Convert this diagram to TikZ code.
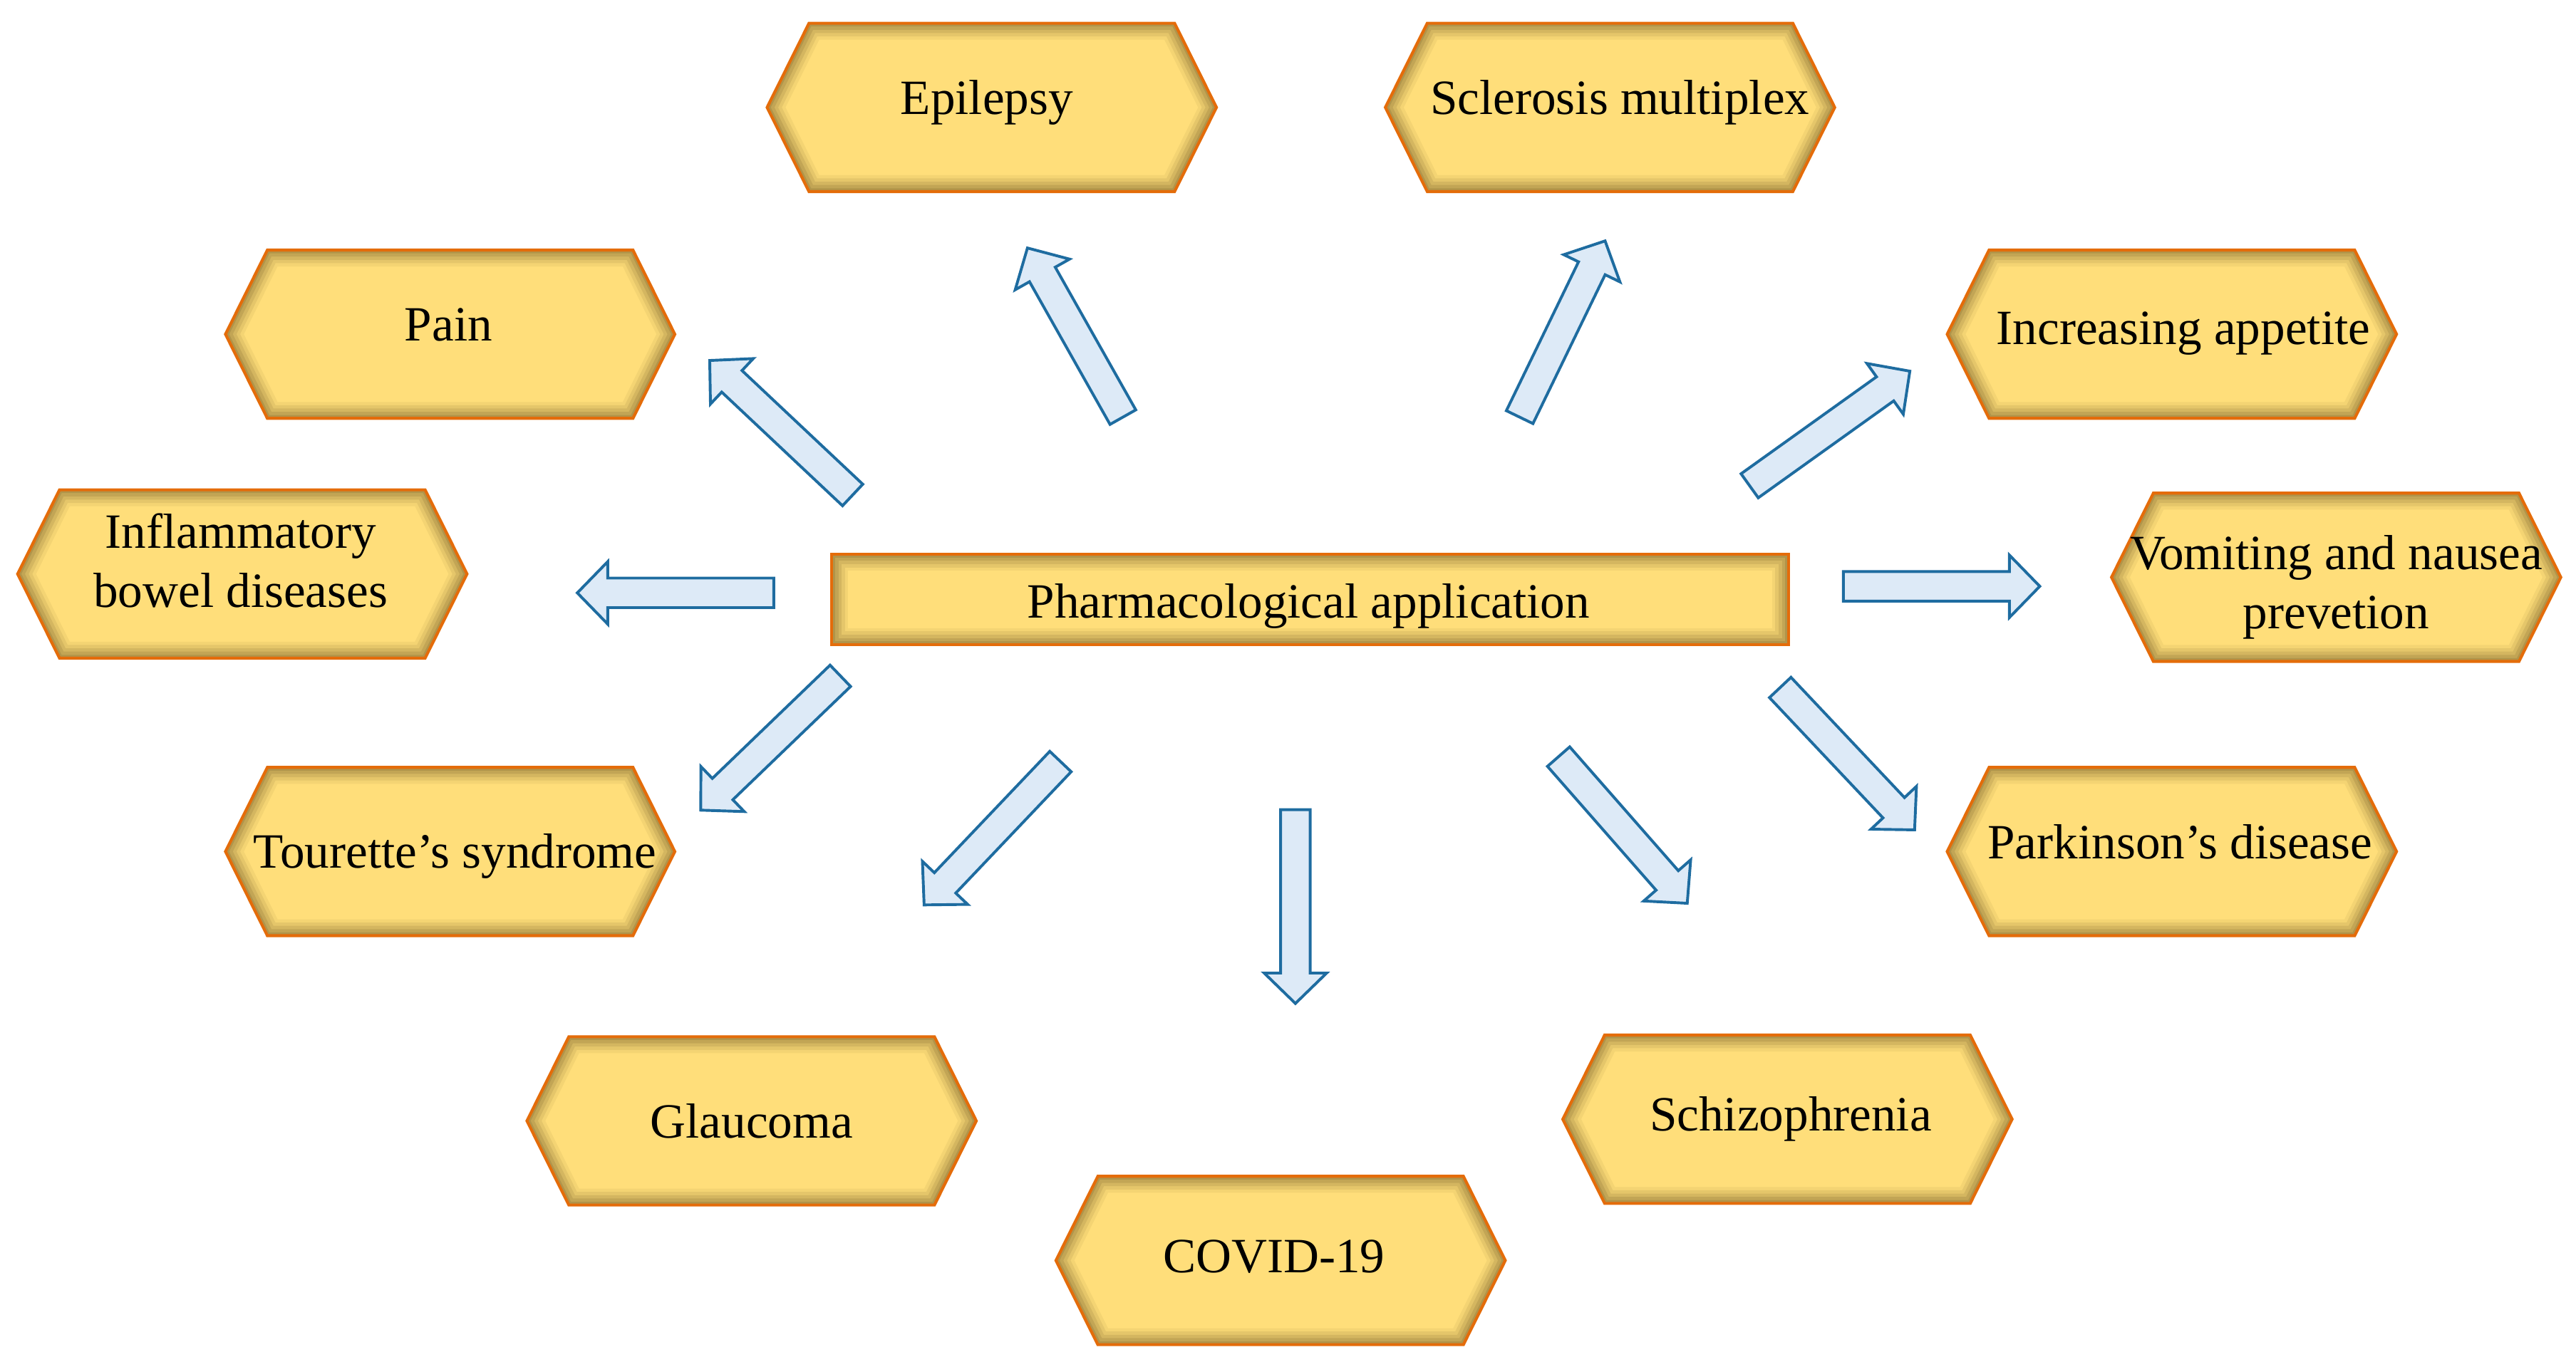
\documentclass[tikz,border=0pt]{standalone}
\usepackage{fontspec}
\setmainfont{Liberation Serif}
\usetikzlibrary{calc,backgrounds}
\pgfdeclarelayer{bg0}
\pgfsetlayers{bg0,background,main}
\definecolor{hexfill}{RGB}{255,222,122}
\definecolor{hexedge}{RGB}{228,108,10}
\definecolor{hexshade}{RGB}{105,82,30}
\definecolor{arrfill}{RGB}{221,234,247}
\definecolor{arredge}{RGB}{30,108,160}
\newcommand\hexpath[1]{(#1.west) -- ([xshift=25.5pt]#1.north west) -- ([xshift=-25.5pt]#1.north east) -- (#1.east) -- ([xshift=-25.5pt]#1.south east) -- ([xshift=25.5pt]#1.south west) -- cycle}
\newcommand\rectpath[1]{(#1.north west) rectangle (#1.south east)}
\newcommand\shadebox[2]{%
  \fill[hexfill] #1{#2};
  \begin{scope}
    \clip #1{#2};
    \foreach \w/\o in {20/0.07,16/0.10,12/0.13,8/0.16,4/0.2}
      \draw[hexshade, line width=\w pt, opacity=\o] #1{#2};
  \end{scope}
  \draw[hexedge, line width=1.8pt, line join=miter] #1{#2};
}
% shift a label by dx (right) and dy (up) without changing its box
\newcommand\nudge[3]{\raisebox{#2}[\height][\depth]{\hspace*{#1}\begin{tabular}{@{}c@{}}#3\end{tabular}\hspace*{-#1}}}
\newcommand\blockarrow[2]{%
  \coordinate (#1-hb) at ($(#2)!18.5pt!(#1)$);
  \filldraw[arrowbox] ($(#1)!9pt!90:(#2)$) -- ($(#1-hb)!9pt!90:(#2)$) -- ($(#1-hb)!19pt!90:(#2)$) -- (#2) -- ($(#1-hb)!19pt!-90:(#2)$) -- ($(#1-hb)!9pt!-90:(#2)$) -- ($(#1)!9pt!-90:(#2)$) -- cycle;
}
\begin{document}
\begin{tikzpicture}[x=1pt,y=-1pt,
  hexbox/.style={rectangle, minimum width=273.5pt, minimum height=102.5pt, inner sep=0pt, outer sep=0pt, align=center, font=\fontsize{30}{36}\selectfont},
  centerbox/.style={rectangle, minimum width=582.3pt, minimum height=55pt, inner sep=0pt, outer sep=0pt, font=\fontsize{30}{36}\selectfont},
  arrowbox/.style={fill=arrfill, draw=arredge, line width=1.7pt, line join=miter}]
\begin{pgfonlayer}{bg0}
  \fill[white] (0,0) rectangle (1568,829);
\end{pgfonlayer}
\useasboundingbox (0,0) rectangle (1568,829);

\node[hexbox] (epi) at (603.7,65.4) {\nudge{-3pt}{3pt}{Epilepsy}};
\node[hexbox] (scl) at (980,65.4) {\nudge{6pt}{3pt}{Sclerosis multiplex}};
\node[hexbox] (pain) at (274,203.5) {\nudge{-1pt}{3pt}{Pain}};
\node[hexbox] (app) at (1322,203.5) {\nudge{7pt}{1pt}{Increasing appetite}};
\node[hexbox] (ibd) at (147.5,349.5) {\nudge{-1pt}{5pt}{Inflammatory\\bowel diseases}};
\node[hexbox] (vom) at (1422,351.5) {\nudge{0pt}{-6pt}{Vomiting and nausea\\prevetion}};
\node[hexbox] (tou) at (274,518.5) {\nudge{3pt}{-3pt}{Tourette’s syndrome}};
\node[hexbox] (park) at (1322,518.5) {\nudge{5pt}{3pt}{Parkinson’s disease}};
\node[hexbox] (gla) at (457.5,682.5) {\nudge{0pt}{-3pt}{Glaucoma}};
\node[hexbox] (sch) at (1088,681.5) {\nudge{2pt}{0pt}{Schizophrenia}};
\node[hexbox] (cov) at (779.5,767.5) {\nudge{-4pt}{0pt}{COVID-19}};
\node[centerbox] (pa) at (797.5,365) {\nudge{-1pt}{-4pt}{Pharmacological application}};

\begin{scope}[on background layer]
  \foreach \n in {epi,scl,pain,app,ibd,vom,tou,park,gla,sch,cov} {\shadebox\hexpath\n}
  \shadebox\rectpath{pa}
\end{scope}

% arrow tails and tips
\coordinate (a1t) at (683.5,254);   \coordinate (a1h) at (625.4,151);
\coordinate (a2t) at (925,254);     \coordinate (a2h) at (977,146.7);
\coordinate (a3t) at (519,301.4);   \coordinate (a3h) at (432,219.5);
\coordinate (a4t) at (1065,295.8);  \coordinate (a4h) at (1162.5,226);
\coordinate (a5t) at (471,361);     \coordinate (a5h) at (351.4,361);
\coordinate (a6t) at (1122,357);    \coordinate (a6h) at (1241.6,357);
\coordinate (a7t) at (511.5,411.5); \coordinate (a7h) at (426.5,493.3);
\coordinate (a8t) at (645.5,463.7); \coordinate (a8h) at (562.5,551);
\coordinate (a9t) at (788.5,493);   \coordinate (a9h) at (788.5,611);
\coordinate (a10t) at (948.7,460.7); \coordinate (a10h) at (1027,550);
\coordinate (a11t) at (1083.6,418.6); \coordinate (a11h) at (1165.4,505.3);

\blockarrow{a1t}{a1h}
\blockarrow{a2t}{a2h}
\blockarrow{a3t}{a3h}
\blockarrow{a4t}{a4h}
\blockarrow{a5t}{a5h}
\blockarrow{a6t}{a6h}
\blockarrow{a7t}{a7h}
\blockarrow{a8t}{a8h}
\blockarrow{a9t}{a9h}
\blockarrow{a10t}{a10h}
\blockarrow{a11t}{a11h}
\end{tikzpicture}
\end{document}
